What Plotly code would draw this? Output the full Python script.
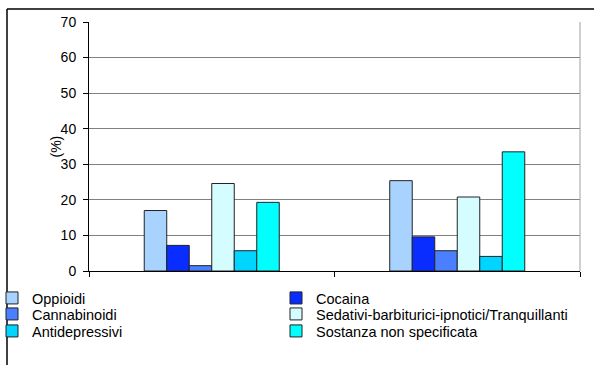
import plotly.graph_objects as go

categories = ["Maschi", "Femmine"]
series_names = ["Oppioidi", "Cocaina", "Cannabinoidi",
                "Sedativi-barbiturici-ipnotici/Tranquillanti",
                "Antidepressivi", "Sostanza non specificata"]
oppioidi = [17.0, 25.4]
cocaina = [7.2, 9.6]
cannabinoidi = [1.5, 5.7]
sedativi = [24.6, 20.8]
antidepressivi = [5.7, 4.1]
sostanza = [19.3, 33.5]
colors = ["#A9D3FF", "#0A2DFF", "#4A80FF", "#D5FCFF", "#00D5FF", "#00FFFF"]
y_ticks = [0, 10, 20, 30, 40, 50, 60, 70]

values = [oppioidi, cocaina, cannabinoidi, sedativi, antidepressivi, sostanza]
legend_ids = ["legend", "legend2", "legend3", "legend4", "legend5", "legend6"]

W, H = 595, 365
L, R, T, B = 89, 15, 22, 94
pw = W - L - R
ph = H - T - B

def px_x(p):
    return (p - L) / pw

def px_y(p):
    return (H - B - p) / ph

fig = go.Figure()
for name, vals, col, lg in zip(series_names, values, colors, legend_ids):
    fig.add_trace(go.Bar(
        x=categories, y=vals, name=name, legend=lg,
        marker=dict(color=col, line=dict(color="#222222", width=1)),
    ))

leg_font = dict(size=14.5, family="Liberation Sans, Arial, sans-serif", color="black")
def leg(xleft, ytop):
    return dict(orientation="h", x=px_x(xleft), xanchor="left", y=px_y(ytop), yanchor="top",
                bgcolor="rgba(0,0,0,0)", font=leg_font, itemwidth=30)

col_x = [-8, 276]
row_y = [282, 298, 315]
legends = {}
for i, lg in enumerate(legend_ids):
    legends[lg] = leg(col_x[i % 2], row_y[i // 2])

fig.update_layout(
    width=W, height=H,
    margin=dict(l=L, r=R, t=T, b=B, pad=0, autoexpand=False),
    paper_bgcolor="white", plot_bgcolor="white",
    font=dict(family="Liberation Sans, Arial, sans-serif", size=14, color="black"),
    barmode="group", bargap=0.45, bargroupgap=0,
    showlegend=True,
    xaxis=dict(showticklabels=False, ticks="outside", tickson="boundaries", ticklen=5,
               tickcolor="black", showline=True, linecolor="black", linewidth=1,
               showgrid=False, zeroline=False, automargin=False),
    yaxis=dict(range=[0, 70], tickvals=y_ticks, ticks="outside", ticklen=5, tickcolor="black",
               ticklabelstandoff=4,
               showline=True, linecolor="black", linewidth=1,
               showgrid=True, gridcolor="#808080", gridwidth=1, zeroline=False,
               tickfont=dict(size=14), automargin=False),
    annotations=[
        dict(text="(%)", textangle=-90, xref="paper", yref="paper", x=px_x(55), y=0.5,
             xanchor="center", yanchor="middle", showarrow=False, font=dict(size=14)),
    ],
    shapes=[
        dict(type="line", xref="paper", yref="paper", x0=1, x1=1, y0=0, y1=1,
             line=dict(color="#A0A0A0", width=1)),
        dict(type="line", xref="paper", yref="paper", x0=px_x(7), x1=px_x(7),
             y0=px_y(9), y1=px_y(366), line=dict(color="black", width=1.5)),
        dict(type="line", xref="paper", yref="paper", x0=px_x(7), x1=px_x(594),
             y0=px_y(9), y1=px_y(9), line=dict(color="black", width=1.5)),
    ],
)
fig.update_layout(**legends)

fig.write_html("out.html", config={"displayModeBar": False},
               post_script="document.body.style.margin='0';document.body.style.padding='0';")
